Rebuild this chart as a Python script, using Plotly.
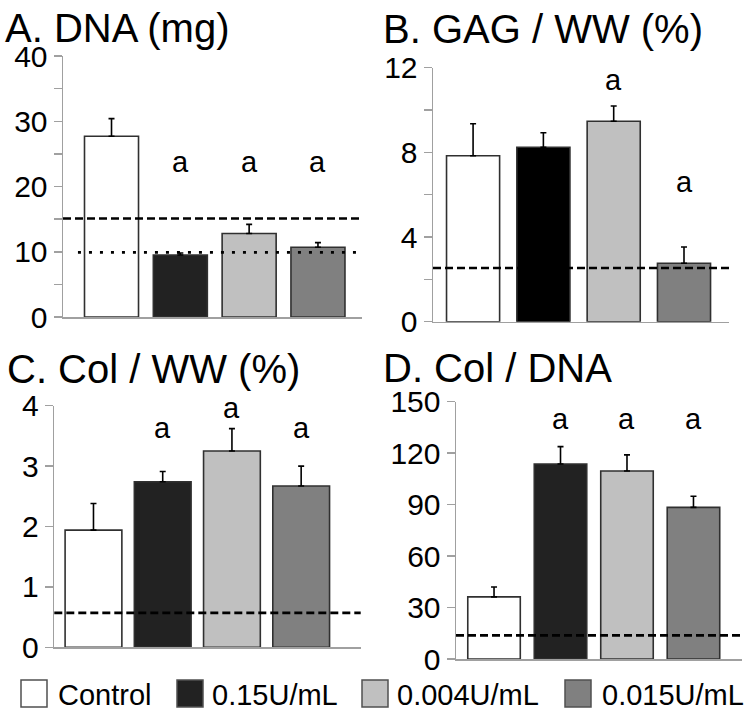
import plotly.graph_objects as go

# ---------------- data ----------------
groups = ["Control", "0.15U/mL", "0.004U/mL", "0.015U/mL"]

panel_titles = ["A. DNA (mg)", "B. GAG / WW (%)", "C. Col / WW (%)", "D. Col / DNA"]

dna_mean = [27.7, 9.5, 12.8, 10.7]
dna_err = [2.7, 0.3, 1.4, 0.7]

gag_mean = [7.84, 8.24, 9.47, 2.76]
gag_err = [1.51, 0.69, 0.72, 0.77]

colww_mean = [1.94, 2.74, 3.25, 2.67]
colww_err = [0.44, 0.17, 0.37, 0.33]

coldna_mean = [36.2, 113.7, 109.6, 88.4]
coldna_err = [5.8, 10.1, 9.4, 6.5]

# reference lines (value, style)
dna_ref = [(15.1, "dash"), (9.9, "dot")]
gag_ref = [(2.54, "dash")]
colww_ref = [(0.57, "dash")]
coldna_ref = [(13.8, "dash")]

# significance marks: (group index, label, y value)
dna_sig = [(1, "a", 23.8), (2, "a", 23.8), (3, "a", 23.8)]
gag_sig = [(2, "a", 11.42), (3, "a", 6.61)]
colww_sig = [(1, "a", 3.63), (2, "a", 3.96), (3, "a", 3.63)]
coldna_sig = [(1, "a", 140), (2, "a", 140), (3, "a", 140)]

# tick settings
dna_ticks = [0, 5, 10, 15, 20, 25, 30, 35, 40]
dna_labels = ["0", "", "10", "", "20", "", "30", "", "40"]
gag_ticks = [0, 2, 4, 6, 8, 10, 12]
gag_labels = ["0", "", "4", "", "8", "", "12"]
colww_ticks = [0, 1, 2, 3, 4]
colww_labels = ["0", "1", "2", "3", "4"]
coldna_ticks = [0, 30, 60, 90, 120, 150]
coldna_labels = ["0", "30", "60", "90", "120", "150"]

# ---------------- style ----------------
W, H = 752, 715
FONT = "Liberation Sans, Arial, Helvetica, sans-serif"
fill_colors = [
    ["#ffffff", "#222222", "#c0c0c0", "#808080"],
    ["#ffffff", "#000000", "#c0c0c0", "#808080"],
    ["#ffffff", "#222222", "#c0c0c0", "#808080"],
    ["#ffffff", "#222222", "#c0c0c0", "#808080"],
]
AXIS_COLOR = "#a0a0a0"
OUTLINE = "#303030"

# panel geometry in pixels: x_left, x_right, y_top(px at ymax), y_bottom(px at 0)
geom = [
    (63, 362, 56, 317),
    (433, 729, 67.7, 321.7),
    (54.3, 360.7, 405.7, 647.3),
    (456, 742, 401.7, 659),
]
xranges = [(-0.705, 3.64), (-0.57, 3.64), (-0.566, 3.86), (-0.572, 3.73)]
yranges = [(0, 40), (0, 12), (0, 4), (0, 150)]
bar_widths = [0.785, 0.755, 0.82, 0.79]
title_pos = [(3, 28), (381, 29), (5, 369), (381, 368)]

panels = [
    (dna_mean, dna_err, dna_ref, dna_sig, dna_ticks, dna_labels),
    (gag_mean, gag_err, gag_ref, gag_sig, gag_ticks, gag_labels),
    (colww_mean, colww_err, colww_ref, colww_sig, colww_ticks, colww_labels),
    (coldna_mean, coldna_err, coldna_ref, coldna_sig, coldna_ticks, coldna_labels),
]

fig = go.Figure()
layout = dict(
    width=W, height=H, autosize=False,
    margin=dict(l=0, r=0, t=0, b=0, pad=0, autoexpand=False),
    paper_bgcolor="white", plot_bgcolor="white",
    showlegend=False, barmode="overlay",
    font=dict(family=FONT, color="black"),
)
annotations = []
shapes = []

for p, (means, errs, refs, sigs, tvals, ttext) in enumerate(panels):
    xa = "x" if p == 0 else f"x{p+1}"
    ya = "y" if p == 0 else f"y{p+1}"
    xl, xr, yt, yb = geom[p]
    for i, g in enumerate(groups):
        fig.add_trace(go.Bar(
            x=[i], y=[means[i]], width=bar_widths[p], name=g,
            xaxis=xa, yaxis=ya,
            marker=dict(color=fill_colors[p][i], line=dict(color=OUTLINE, width=1.6)),
            error_y=dict(type="data", symmetric=False, array=[errs[i]], arrayminus=[0],
                         color="black", thickness=1.6, width=3),
            showlegend=False, hoverinfo="skip",
        ))
    layout["xaxis" if p == 0 else f"xaxis{p+1}"] = dict(
        domain=[xl / W, xr / W], range=list(xranges[p]), anchor=ya,
        showgrid=False, zeroline=False, showticklabels=False, ticks="",
        showline=True, linecolor=AXIS_COLOR, linewidth=1.5, automargin=False,
        fixedrange=True,
    )
    layout["yaxis" if p == 0 else f"yaxis{p+1}"] = dict(
        domain=[1 - yb / H, 1 - yt / H], range=list(yranges[p]), anchor=xa,
        showgrid=False, zeroline=False, automargin=False, fixedrange=True,
        showline=True, linecolor=AXIS_COLOR, linewidth=1.5,
        ticks="outside", ticklen=8, tickwidth=1.5, tickcolor=AXIS_COLOR,
        tickvals=tvals, ticktext=ttext,
        tickfont=dict(size=30, family=FONT, color="black"),
    )
    for val, style in refs:
        dash = "8px,4px" if style == "dash" else "3px,8px"
        shapes.append(dict(
            type="line", xref=f"{xa} domain", yref=ya,
            x0=0.0 if style == "dash" else 0.05, x1=1.0 if style == "dash" else 0.98,
            y0=val, y1=val,
            line=dict(color="black", width=2.6, dash=dash), layer="above",
        ))
    for gi, lab, yv in sigs:
        annotations.append(dict(
            x=gi, y=yv, xref=xa, yref=ya, text=lab, showarrow=False,
            xanchor="center", yanchor="middle",
            font=dict(size=29, family=FONT, color="black"),
        ))
    tx, ty = title_pos[p]
    annotations.append(dict(
        x=tx / W, y=1 - ty / H, xref="paper", yref="paper", text=panel_titles[p],
        showarrow=False, xanchor="left", yanchor="middle",
        font=dict(size=40, family=FONT, color="black"),
    ))

# manual legend (large swatches)
legend_sw_x = [21, 177, 362, 565]
legend_txt_x = [56, 210, 395, 600]
legend_colors = ["#ffffff", "#222222", "#c0c0c0", "#808080"]
for i, g in enumerate(groups):
    x0 = legend_sw_x[i]
    shapes.append(dict(
        type="rect", xref="paper", yref="paper",
        x0=x0 / W, x1=(x0 + 26) / W, y0=1 - 707 / H, y1=1 - 680 / H,
        fillcolor=legend_colors[i], line=dict(color="#505050", width=1.5),
    ))
    annotations.append(dict(
        x=legend_txt_x[i] / W, y=1 - 695 / H, xref="paper", yref="paper",
        text=g, showarrow=False, xanchor="left", yanchor="middle",
        font=dict(size=29, family=FONT, color="black"),
    ))

layout["annotations"] = annotations
layout["shapes"] = shapes
fig.update_layout(**layout)
fig.write_html(
    "out.html",
    config={"displayModeBar": False, "staticPlot": True},
    post_script="document.body.style.margin='0';document.body.style.padding='0';",
)
